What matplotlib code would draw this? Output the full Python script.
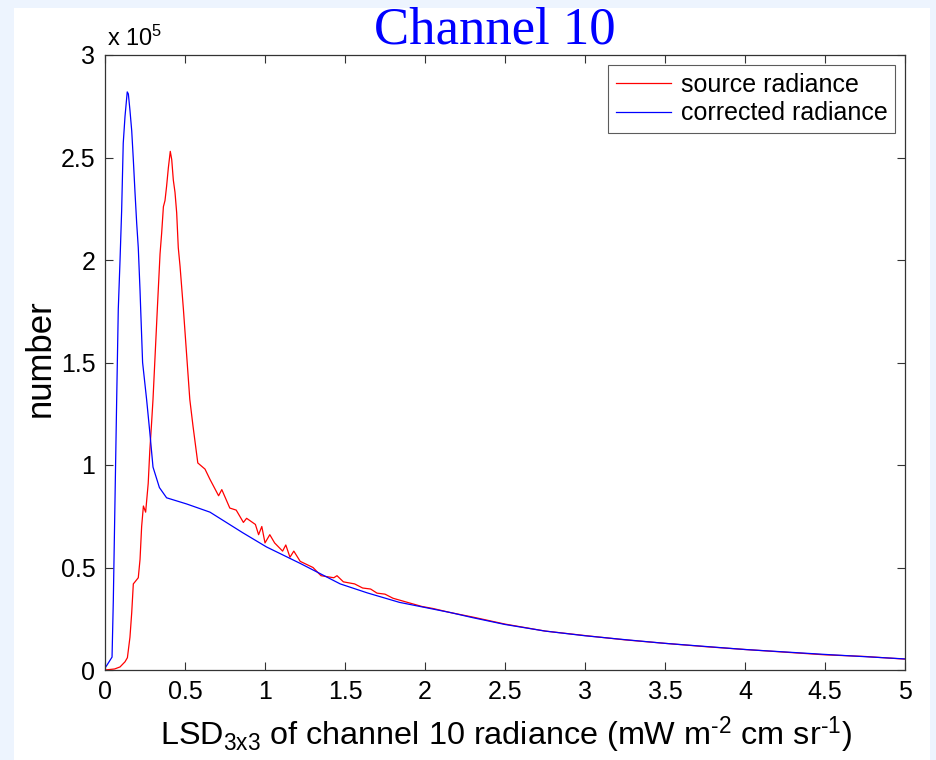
import matplotlib
matplotlib.use("Agg")
import matplotlib.pyplot as plt
from matplotlib.patches import Rectangle
from matplotlib.ticker import FormatStrFormatter

# ---------------- data (counts in units of 1e5) ----------------
corrected_x = [0.0, 0.0125, 0.044, 0.052, 0.0625, 0.073, 0.083, 0.094, 0.104, 0.114,
               0.125, 0.139, 0.146, 0.156, 0.167, 0.177, 0.1875, 0.198, 0.208, 0.219,
               0.223, 0.235, 0.26, 0.28, 0.30, 0.34, 0.385, 0.51, 0.656, 0.86, 1.01,
               1.22, 1.47, 1.64, 1.84, 2.16, 2.3, 2.5, 2.75, 3.0, 3.25, 3.5, 3.75,
               4.0, 4.25, 4.5, 4.75, 5.0]
corrected_y = [0.01, 0.024, 0.063, 0.34, 0.83, 1.32, 1.76, 2.0, 2.24, 2.57,
               2.70, 2.82, 2.81, 2.73, 2.63, 2.49, 2.33, 2.18, 2.06, 1.85,
               1.76, 1.5, 1.32, 1.16, 0.99, 0.89, 0.84, 0.81, 0.77, 0.67, 0.60,
               0.52, 0.42, 0.376, 0.33, 0.28, 0.255, 0.222, 0.19, 0.167, 0.148, 0.13, 0.115,
               0.10, 0.088, 0.076, 0.065, 0.054]

source_x = [0.0, 0.06, 0.094, 0.125, 0.14, 0.156, 0.167, 0.177, 0.1875, 0.208,
            0.219, 0.229, 0.24, 0.254, 0.27, 0.28, 0.29, 0.30, 0.327, 0.344,
            0.354, 0.365, 0.375, 0.385, 0.396, 0.408, 0.417, 0.427, 0.4375, 0.448,
            0.458, 0.469, 0.479, 0.49, 0.53, 0.55, 0.58, 0.625, 0.656, 0.71,
            0.73, 0.78, 0.82, 0.865, 0.885, 0.94, 0.96, 0.98, 1.0, 1.03,
            1.06, 1.11, 1.13, 1.156, 1.18, 1.22, 1.30, 1.35, 1.43, 1.45,
            1.49, 1.56, 1.61, 1.66, 1.70, 1.75, 1.80, 1.89, 1.98, 2.05,
            2.16, 2.3, 2.5, 2.75, 3.0, 3.25, 3.5, 3.75, 4.0, 4.25, 4.5, 4.75, 5.0]
source_y = [0.0, 0.005, 0.015, 0.04, 0.06, 0.16, 0.28, 0.42, 0.43, 0.45,
            0.54, 0.70, 0.80, 0.77, 0.91, 1.07, 1.19, 1.32, 1.76, 2.03,
            2.13, 2.26, 2.29, 2.36, 2.45, 2.53, 2.49, 2.39, 2.33, 2.23,
            2.06, 1.97, 1.87, 1.76, 1.32, 1.19, 1.01, 0.98, 0.93, 0.85,
            0.88, 0.79, 0.78, 0.72, 0.74, 0.71, 0.66, 0.70, 0.62, 0.66,
            0.62, 0.58, 0.61, 0.55, 0.58, 0.53, 0.50, 0.46, 0.45, 0.46,
            0.43, 0.42, 0.40, 0.395, 0.375, 0.37, 0.35, 0.33, 0.31, 0.30,
            0.28, 0.258, 0.224, 0.19, 0.168, 0.147, 0.13, 0.114, 0.10, 0.087, 0.074, 0.066, 0.053]

x_ticks = [0, 0.5, 1, 1.5, 2, 2.5, 3, 3.5, 4, 4.5, 5]
y_ticks = [0, 0.5, 1, 1.5, 2, 2.5, 3]
series_labels = ["source radiance", "corrected radiance"]

sans = "Liberation Sans"
plt.rcParams["font.family"] = [sans, "DejaVu Sans"]
plt.rcParams["mathtext.fontset"] = "custom"
plt.rcParams["mathtext.rm"] = sans
plt.rcParams["mathtext.it"] = sans
plt.rcParams["mathtext.default"] = "regular"

fig = plt.figure(figsize=(9.36, 7.6), dpi=100, facecolor="#EDF4FE")
bg = Rectangle((14 / 936, 0), (930 - 14) / 936, 752 / 760,
               transform=fig.transFigure, facecolor="white",
               edgecolor="none", zorder=-10)
fig.patches.append(bg)

ax = fig.add_axes([105 / 936, 90 / 760, 800 / 936, 615 / 760])
ax.set_zorder(1)
ax.plot(source_x, source_y, color="#FF0000", lw=0.9, label=series_labels[0])
ax.plot(corrected_x, corrected_y, color="#0000FF", lw=0.9, label=series_labels[1])

ax.set_xlim(0, 5)
ax.set_ylim(0, 3)
ax.set_xticks(x_ticks)
ax.set_yticks(y_ticks)
ax.xaxis.set_major_formatter(FormatStrFormatter("%g"))
ax.yaxis.set_major_formatter(FormatStrFormatter("%g"))
ax.tick_params(direction="in", top=True, right=True, length=6, width=0.8,
               color="#333333", labelsize=18, pad=7)
for s in ax.spines.values():
    s.set_color("#333333")
    s.set_linewidth(0.9)

leg = ax.legend(loc="upper right", fontsize=18, frameon=True, fancybox=False,
                handlelength=2.2, handletextpad=0.4, borderpad=0.3,
                labelspacing=0.2, borderaxespad=0.4)
leg.get_frame().set_edgecolor("#333333")
leg.get_frame().set_linewidth(0.8)

fig.text(495 / 936, 1 - 31 / 760, "Channel 10", family="Liberation Serif",
         fontsize=38, color="#0000FF", ha="center", va="center")
fig.text(107 / 936, 1 - 46 / 760, r"x 10$^{5}$", fontsize=17, ha="left", va="baseline")
fig.text(40 / 936, 1 - 358 / 760, "number", fontsize=25, rotation=90,
         ha="center", va="center")
fig.text(506 / 936, 1 - 745 / 760,
         "LSD$_{3x3}$ of channel 10 radiance (mW m$^{\u20102}$ cm sr$^{\u20101}$)",
         fontsize=23.3, ha="center", va="baseline")

fig.savefig("out.png", dpi=100, facecolor=fig.get_facecolor())
